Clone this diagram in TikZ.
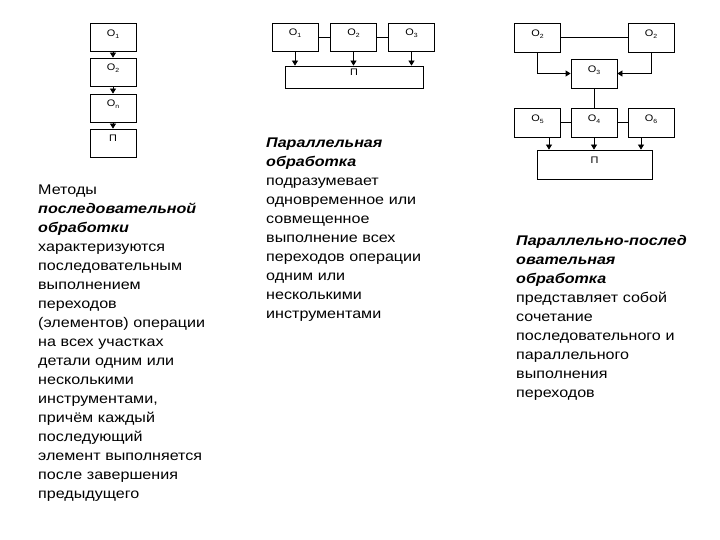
\documentclass[tikz,border=0pt]{standalone}
\usepackage{fontspec}
\setmainfont[FakeStretch=1.15]{Liberation Sans}
\usetikzlibrary{arrows.meta}
\newcommand{\lowsub}[1]{\raisebox{-2pt}{\fontsize{6}{6}\selectfont #1}}
\begin{document}
\begin{tikzpicture}[x=1pt,y=-1pt]
\useasboundingbox (0,0) rectangle (720,540);
\tikzset{
 opbox/.style={draw, line width=0.8pt, minimum width=46pt, minimum height=28pt, inner sep=0pt,
   font=\fontsize{9.5}{10}\selectfont, text height=7pt, text depth=9pt},
 flow/.style={line width=0.8pt, -{Triangle[width=6pt,length=5pt]}},
 link/.style={line width=0.8pt},
 desc/.style={anchor=base west, align=left, inner sep=0pt, text width=200pt,
   font=\fontsize{14}{19}\selectfont},
}
% diagram 1
\node[opbox] (d1) at (113,37.5) {О\lowsub{1}};
\node[opbox] (d2) at (113,72) {О\lowsub{2}};
\node[opbox] (d3) at (113,108) {О\lowsub{n}};
\node[opbox] (d4) at (113,143) {П};
\draw[flow] (d1.south) -- (d2.north);
\draw[flow] (d2.south) -- (d3.north);
\draw[flow] (d3.south) -- (d4.north);
% diagram 2
\node[opbox] (b1) at (295,37) {О\lowsub{1}};
\node[opbox] (b2) at (353.5,37) {О\lowsub{2}};
\node[opbox] (b3) at (411.5,37) {О\lowsub{3}};
\node[opbox, minimum width=138pt, minimum height=22pt] (p2) at (354,77) {П};
\draw[link] (b1.east) -- (b2.west);
\draw[link] (b2.east) -- (b3.west);
\draw[flow] (b1.south) -- (b1.south |- p2.north);
\draw[flow] (b2.south) -- (b2.south |- p2.north);
\draw[flow] (b3.south) -- (b3.south |- p2.north);
% diagram 3
\node[opbox, minimum height=29pt] (a1) at (537.5,37.5) {О\lowsub{2}};
\node[opbox, minimum height=29pt] (a2) at (651,37.5) {О\lowsub{2}};
\node[opbox, minimum height=29pt] (a3) at (594,73.5) {О\lowsub{3}};
\node[opbox, minimum height=29pt] (a5) at (537.5,122.5) {О\lowsub{5}};
\node[opbox, minimum height=29pt] (a4) at (594,122.5) {О\lowsub{4}};
\node[opbox, minimum height=29pt] (a6) at (651,122.5) {О\lowsub{6}};
\node[opbox, minimum width=115pt, minimum height=29pt] (p3) at (594.5,164.5) {П};
\draw[link] (a1.east) -- (a2.west);
\draw[flow] (a1.south) |- (a3.west);
\draw[flow] (a2.south) |- (a3.east);
\draw[link] (a3.south) -- (a4.north);
\draw[link] (a5.east) -- (a4.west);
\draw[link] (a4.east) -- (a6.west);
\coordinate (s5) at ([xshift=11.5pt]a5.south);
\coordinate (s6) at ([xshift=-10pt]a6.south);
\draw[flow] (s5) -- (s5 |- p3.north);
\draw[flow] (a4.south) -- (a4.south |- p3.north);
\draw[flow] (s6) -- (s6 |- p3.north);
% texts
\node[desc] (t1) at (38,195) {Методы\\
\textbf{\textit{последовательной}}\\
\textbf{\textit{обработки}}\\
характеризуются\\
последовательным\\
выполнением\\
переходов\\
(элементов) операции\\
на всех участках\\
детали одним или\\
несколькими\\
инструментами,\\
причём каждый\\
последующий\\
элемент выполняется\\
после завершения\\
предыдущего};
\node[desc] (t2) at (266,148) {\textbf{\textit{Параллельная}}\\
\textbf{\textit{обработка}}\\
подразумевает\\
одновременное или\\
совмещенное\\
выполнение всех\\
переходов операции\\
одним или\\
несколькими\\
инструментами};
\node[desc] (t3) at (516,245) {\textbf{\textit{Параллельно-послед}}\\
\textbf{\textit{овательная}}\\
\textbf{\textit{обработка}}\\
представляет собой\\
сочетание\\
последовательного и\\
параллельного\\
выполнения\\
переходов};
\end{tikzpicture}
\end{document}
